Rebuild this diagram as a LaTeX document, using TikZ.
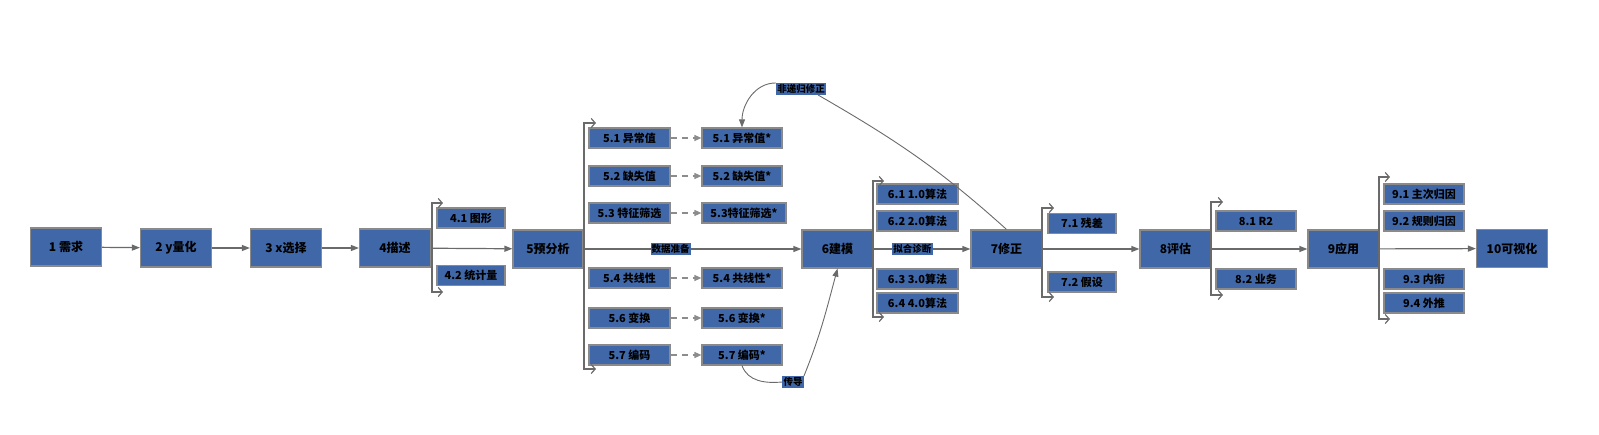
\documentclass[tikz,border=0pt]{standalone}
\usepackage{fontspec}
\setmainfont{Noto Sans CJK SC}
\usetikzlibrary{arrows.meta}
\definecolor{boxblue}{HTML}{4068A8}
\definecolor{boxedge}{HTML}{8A8A8A}
\definecolor{lineg}{HTML}{6A6A6A}
\definecolor{dashg}{HTML}{8C8C8C}
\tikzset{
  box/.style={draw=boxedge, line width=1.2pt, fill=boxblue, inner sep=0pt,
    minimum height=38, minimum width=71, text=black,
    font=\bfseries\fontsize{12}{12}\selectfont},
  sub/.style={box, minimum height=20, font=\bfseries\fontsize{11}{11}\selectfont},
  lbl/.style={fill=boxblue, inner sep=1.2pt, text=black,
    font=\bfseries\fontsize{9.5}{10}\selectfont},
  tip/.style={-{Triangle[length=8pt,width=6pt]}},
  mainln/.style={draw=lineg, line width=1.2pt, tip},
  ln/.style={draw=lineg, line width=0.9pt},
  dsh/.style={draw=dashg, line width=1.2pt, dash pattern=on 6pt off 5pt,
    -{Triangle[length=7pt,width=6pt]}},
  brk/.style={draw=lineg, line width=1.2pt,
    {Straight Barb[length=4pt,width=9pt]}-{Straight Barb[length=4pt,width=9pt]}}
}
\begin{document}
\begin{tikzpicture}[x=1pt,y=-1pt]
\useasboundingbox (0,0) rectangle (1599,434);
% main boxes
\node[box] (m1) at (66,247) {1 需求};
\node[box] (m2) at (176,248) {2 y量化};
\node[box] (m3) at (286,248) {3 x选择};
\node[box] (m4) at (395,248) {4描述};
\node[box, minimum width=70] (m5) at (548,249) {5预分析};
\node[box] (m6) at (837.5,249) {6建模};
\node[box] (m7) at (1006.5,249) {7修正};
\node[box] (m8) at (1175.5,249) {8评估};
\node[box] (m9) at (1343.5,249) {9应用};
\node[box] (m10) at (1512,248.5) {10可视化};
% 4 subs
\node[sub, minimum width=68] (s41) at (471,218) {4.1 图形};
\node[sub, minimum width=68] (s42) at (471,275.5) {4.2 统计量};
% 5 subs
\node[sub, minimum width=81] (s51) at (629.5,138) {5.1 异常值};
\node[sub, minimum width=81] (s52) at (629.5,176) {5.2 缺失值};
\node[sub, minimum width=81] (s53) at (629.5,213) {5.3 特征筛选};
\node[sub, minimum width=81] (s54) at (629.5,278) {5.4 共线性};
\node[sub, minimum width=81] (s56) at (629.5,318) {5.6 变换};
\node[sub, minimum width=81] (s57) at (629.5,355) {5.7 编码};
\node[sub, minimum width=80] (s51b) at (742,138) {5.1 异常值*};
\node[sub, minimum width=80] (s52b) at (742,176) {5.2 缺失值*};
\node[sub, minimum width=84] (s53b) at (744,213) {5.3特征筛选*};
\node[sub, minimum width=80] (s54b) at (742,278) {5.4 共线性*};
\node[sub, minimum width=80] (s56b) at (742,318) {5.6 变换*};
\node[sub, minimum width=80] (s57b) at (742,355) {5.7 编码*};
% 6 subs
\node[sub, minimum width=81] (s61) at (917.5,194) {6.1 1.0算法};
\node[sub, minimum width=81] (s62) at (917.5,221) {6.2 2.0算法};
\node[sub, minimum width=81] (s63) at (917.5,279) {6.3 3.0算法};
\node[sub, minimum width=81] (s64) at (917.5,303) {6.4 4.0算法};
% 7 subs
\node[sub, minimum width=68] (s71) at (1082,223.5) {7.1 残差};
\node[sub, minimum width=68] (s72) at (1082,282) {7.2 假设};
% 8 subs
\node[sub, minimum width=80] (s81) at (1256,221) {8.1 R2};
\node[sub, minimum width=80] (s82) at (1256,279) {8.2 业务};
% 9 subs
\node[sub, minimum width=80] (s91) at (1424,194) {9.1 主次归因};
\node[sub, minimum width=80] (s92) at (1424,221) {9.2 规则归因};
\node[sub, minimum width=80] (s93) at (1424,279) {9.3 内衔};
\node[sub, minimum width=80] (s94) at (1424,303) {9.4 外推};
% brackets
\draw[brk] (443,203) -- (432,203) -- (432,292) -- (443,292);
\draw[brk] (596,123) -- (584,123) -- (584,369) -- (596,369);
\draw[brk] (884,181) -- (873,181) -- (873,317) -- (884,317);
\draw[brk] (1054,208) -- (1042,208) -- (1042,297) -- (1054,297);
\draw[brk] (1223,202) -- (1211,202) -- (1211,295) -- (1223,295);
\draw[brk] (1390,177) -- (1379,177) -- (1379,319) -- (1390,319);
% main arrows
\draw[mainln] (m1) -- (m2);
\draw[mainln] (m2) -- (m3);
\draw[mainln] (m3) -- (m4);
\draw[mainln] (m4) -- (m5);
\draw[mainln] (m5) -- node[lbl, pos=0.4] (d1) {数据准备} (m6);
\draw[mainln] (m6) -- node[lbl, pos=0.4] (d2) {拟合诊断} (m7);
\draw[mainln] (m7) -- (m8);
\draw[mainln] (m8) -- (m9);
\draw[mainln] (m9) -- (m10);
% dashed arrows
\draw[dsh] (s51) -- (s51b);
\draw[dsh] (s52) -- (s52b);
\draw[dsh] (s53) -- (s53b);
\draw[dsh] (s54) -- (s54b);
\draw[dsh] (s56) -- (s56b);
\draw[dsh] (s57) -- (s57b);
% curved feedback
\node[lbl] (nr) at (801,89) {非递归修正};
\draw[ln] (m7.north) to[out=138,in=-30] ([xshift=-8pt]nr.south east);
\draw[ln, tip] (nr.north west) to[out=180,in=90] (s51b.north);
\node[lbl] (cd) at (793,382) {传导};
\draw[ln] (s57b.south) to[out=-70,in=185] (cd.west);
\draw[ln, tip] (cd.north east) to[out=68,in=-105] (m6.south);
\end{tikzpicture}
\end{document}
